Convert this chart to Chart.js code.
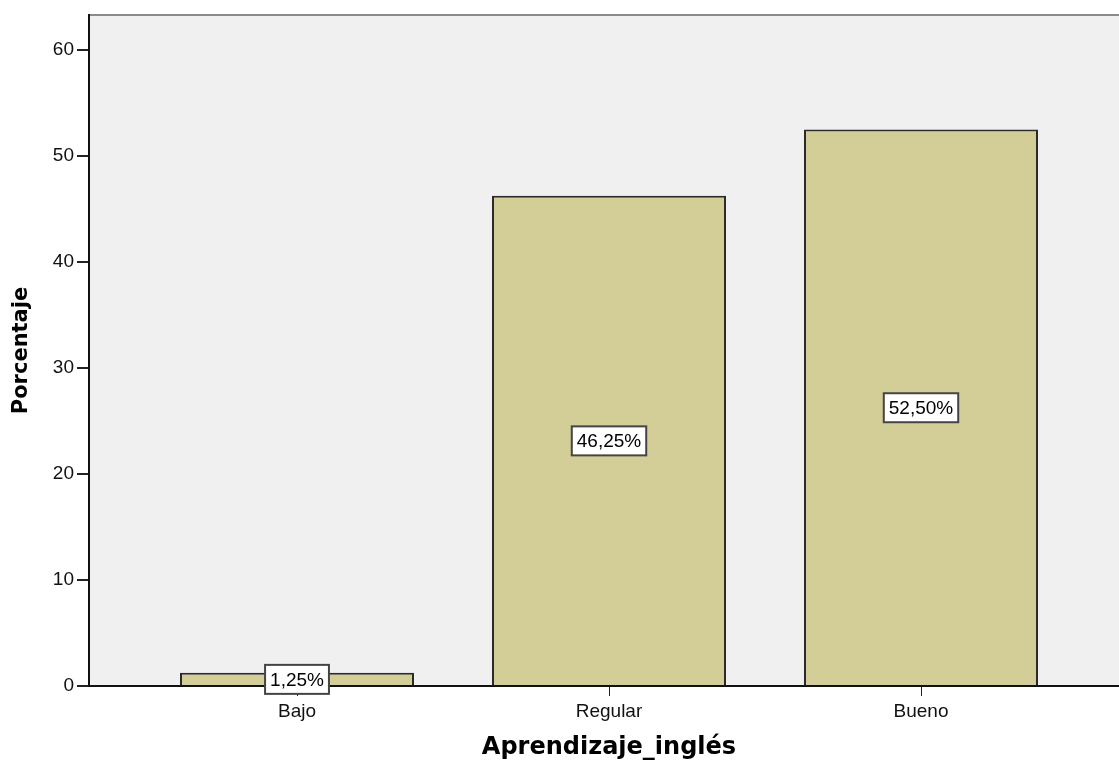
<!DOCTYPE html>
<html>
<head>
<meta charset="utf-8">
<script src="https://cdn.jsdelivr.net/npm/chart.js@4"></script>
<style>
  html, body { margin: 0; padding: 0; background: #fff; overflow: hidden; }
  #wrap { width: 1129px; height: 763px; }
</style>
</head>
<body>
<div id="wrap"><canvas id="chart"></canvas></div>
<script>
// Data
const categories = ["Bajo", "Regular", "Bueno"];
const percentages = [1.25, 46.25, 52.5];
const valueLabels = ["1,25%", "46,25%", "52,50%"];
const yTicks = [0, 10, 20, 30, 40, 50, 60];

// Grey plot background + thin top frame line
const plotBackground = {
  id: "plotBackground",
  beforeDraw(chart) {
    const { ctx, chartArea: a } = chart;
    ctx.save();
    ctx.fillStyle = "#f0f0f0";
    ctx.fillRect(a.left, a.top, a.right - a.left, a.bottom - a.top);
    ctx.strokeStyle = "#8a8a8a";
    ctx.lineWidth = 2;
    ctx.beginPath();
    ctx.moveTo(a.left, a.top);
    ctx.lineTo(a.right, a.top);
    ctx.stroke();
    ctx.restore();
  }
};

// White boxed percentage labels at half bar height
const valueBoxes = {
  id: "valueBoxes",
  afterDraw(chart) {
    const { ctx } = chart;
    const meta = chart.getDatasetMeta(0);
    const y = chart.scales.y;
    ctx.save();
    ctx.font = '19px "Liberation Sans"';
    ctx.textAlign = "center";
    ctx.textBaseline = "middle";
    meta.data.forEach(function (bar, i) {
      const cy = y.getPixelForValue(percentages[i] / 2);
      const w = ctx.measureText(valueLabels[i]).width + 10;
      const h = 29;
      ctx.fillStyle = "#fff";
      ctx.fillRect(bar.x - w / 2, cy - h / 2, w, h);
      ctx.strokeStyle = "#444";
      ctx.lineWidth = 2;
      ctx.strokeRect(bar.x - w / 2, cy - h / 2, w, h);
      ctx.fillStyle = "#000";
      ctx.fillText(valueLabels[i], bar.x, cy + 1);
    });
    ctx.restore();
  }
};

new Chart(document.getElementById("chart"), {
  type: "bar",
  data: {
    datasets: [{
      data: categories.map(function (c, i) { return { x: i, y: percentages[i] }; }),
      backgroundColor: "#d3ce98",
      borderColor: "#2a2a2a",
      borderWidth: 2,
      categoryPercentage: 1,
      barPercentage: 0.75
    }]
  },
  options: {
    responsive: true,
    maintainAspectRatio: false,
    animation: false,
    layout: { padding: { top: 15, right: 0, left: 0, bottom: 0 } },
    plugins: {
      legend: { display: false },
      tooltip: { enabled: false }
    },
    scales: {
      x: {
        type: "linear",
        min: -2 / 3,
        max: 8 / 3,
        offset: false,
        afterBuildTicks: function (s) { s.ticks = categories.map(function (c, i) { return { value: i }; }); },
        afterFit: function (s) { s.height = 77; },
        ticks: {
          callback: function (v) { return categories[v]; },
          color: "#111",
          font: { family: "Liberation Sans", size: 19 },
          padding: 4,
          maxRotation: 0,
          autoSkip: false
        },
        grid: { offset: false, drawOnChartArea: false, tickLength: 10, color: "#222" },
        border: { color: "#111", width: 2 },
        title: {
          display: true,
          text: "Aprendizaje_inglés",
          color: "#000",
          font: { family: "DejaVu Sans", weight: "bold", size: 24 },
          padding: { top: 0, bottom: 1 }
        }
      },
      y: {
        min: 0,
        max: 63.3,
        afterBuildTicks: function (s) { s.ticks = yTicks.map(function (v) { return { value: v }; }); },
        afterFit: function (s) { s.width = 89; },
        ticks: {
          color: "#111",
          font: { family: "Liberation Sans", size: 19 },
          padding: 3
        },
        grid: { drawOnChartArea: false, tickLength: 12, color: "#222", lineWidth: 2 },
        border: { color: "#111", width: 2 },
        title: {
          display: true,
          text: "Porcentaje",
          color: "#000",
          font: { family: "DejaVu Sans", weight: "bold", size: 21 },
          padding: { top: 9, bottom: 0 }
        }
      }
    }
  },
  plugins: [plotBackground, valueBoxes]
});
</script>
</body>
</html>
